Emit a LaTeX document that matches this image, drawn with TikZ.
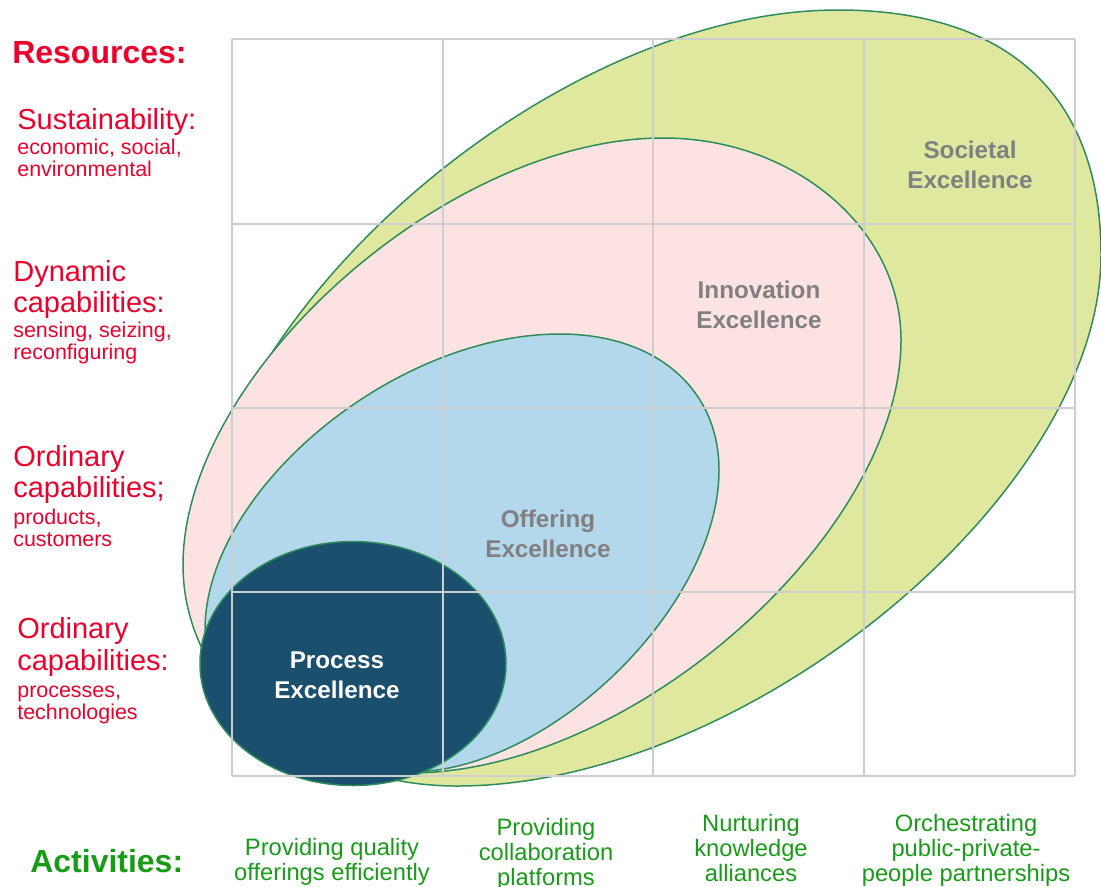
\documentclass[tikz,border=0pt]{standalone}
\usepackage{fontspec}
\setmainfont{Liberation Sans}
\definecolor{resred}{RGB}{236,0,44}
\definecolor{actgreen}{RGB}{24,156,24}
\definecolor{labgrey}{RGB}{128,128,128}
\definecolor{gridgrey}{RGB}{206,206,206}
\definecolor{edgegreen}{RGB}{46,140,92}
\definecolor{socfill}{RGB}{224,232,160}
\definecolor{innfill}{RGB}{253,226,226}
\definecolor{offfill}{RGB}{179,215,235}
\definecolor{procfill}{RGB}{27,79,110}
\newcommand\fsz[2]{\fontsize{#1}{#2}\selectfont}
% multi-line nodes sit on the baseline of their last line
\tikzset{
  blob/.style={draw=edgegreen, line width=0.85pt},
  gridline/.style={draw=gridgrey, line width=1.1pt},
  headlabel/.style={inner sep=0pt, anchor=base west, text=resred, font=\fsz{18.2}{20}\bfseries},
  restitle/.style={inner sep=0pt, anchor=base west, align=left, text=resred, font=\fsz{16.5}{17.2}},
  resdetail/.style={inner sep=0pt, anchor=base west, align=left, text=resred, font=\fsz{12.2}{12.5}},
  acthead/.style={inner sep=0pt, anchor=base west, text=actgreen, font=\fsz{18.2}{20}\bfseries},
  actlabel/.style={inner sep=0pt, anchor=base, align=center, text=actgreen, font=\fsz{13.5}{14.2}},
  levellabel/.style={inner sep=0pt, anchor=base, align=center, text=labgrey, font=\fsz{13.8}{17}\bfseries}
}
\begin{document}
\begin{tikzpicture}[x=0.02cm,y=-0.02cm]
\useasboundingbox (0,0) rectangle (1101,886);

% Societal excellence
\path[blob, fill=socfill] (838,10) .. controls (1009,10) and (1101,96) .. (1101,255)
  .. controls (1101,494) and (747,786) .. (457,786)
  .. controls (310,786) and (195,688) .. (195,575)
  .. controls (195,325) and (546,10) .. (838,10) -- cycle;

% Innovation excellence
\path[blob, fill=innfill] (663,138) .. controls (794,138) and (901,228.5) .. (901,340)
  .. controls (901,535) and (631,773) .. (410,773)
  .. controls (285,773) and (183,680) .. (183,565)
  .. controls (183,373) and (447,138) .. (663,138) -- cycle;

% Offering excellence
\path[blob, fill=offfill] (560,334) .. controls (655,334) and (719,388) .. (719,470)
  .. controls (719,607) and (549,772) .. (410,772)
  .. controls (297,772) and (205,708) .. (205,630)
  .. controls (205,491) and (393,334) .. (560,334) -- cycle;

% Process excellence
\path[blob, fill=procfill] (353,663.5) ellipse [x radius=153, y radius=122];

% Grid
\foreach \gx in {232,443,653,864,1075} \draw[gridline] (\gx,39) -- (\gx,776);
\foreach \gy in {39,224,408,592,776} \draw[gridline] (232,\gy) -- (1075,\gy);

% Level labels
\node[levellabel] (soc) at (970,188) {Societal\\Excellence};
\node[levellabel] (inn) at (759,328) {Innovation\\Excellence};
\node[levellabel] (off) at (548,557) {Offering\\Excellence};
\node[levellabel, text=white] (proc) at (337,698) {Process\\Excellence};

% Resources axis
\node[headlabel] (res) at (12,63) {Resources:};
\node[restitle] (sust) at (17,129) {Sustainability:};
\node[resdetail] (sustd) at (17,176) {economic, social,\\environmental};
\node[restitle] (dyn) at (13,312) {Dynamic\\capabilities:};
\node[resdetail] (dynd) at (13,359) {sensing, seizing,\\reconfiguring};
\node[restitle] (ordp) at (13,497) {Ordinary\\capabilities;};
\node[resdetail] (ordpd) at (13,546) {products,\\customers};
\node[restitle, font=\fsz{16.5}{18}] (ordt) at (17,670) {Ordinary\\capabilities:};
\node[resdetail] (ordtd) at (17,719) {processes,\\technologies};

% Activities axis
\node[acthead] (act) at (30,872) {Activities:};
\node[actlabel] (a1) at (332,880) {Providing quality\\offerings efficiently};
\node[actlabel] (a2) at (546,885) {Providing\\collaboration\\platforms};
\node[actlabel] (a3) at (751,881) {Nurturing\\knowledge\\alliances};
\node[actlabel] (a4) at (966,881) {Orchestrating\\public-private-\\people partnerships};
\end{tikzpicture}
\end{document}
